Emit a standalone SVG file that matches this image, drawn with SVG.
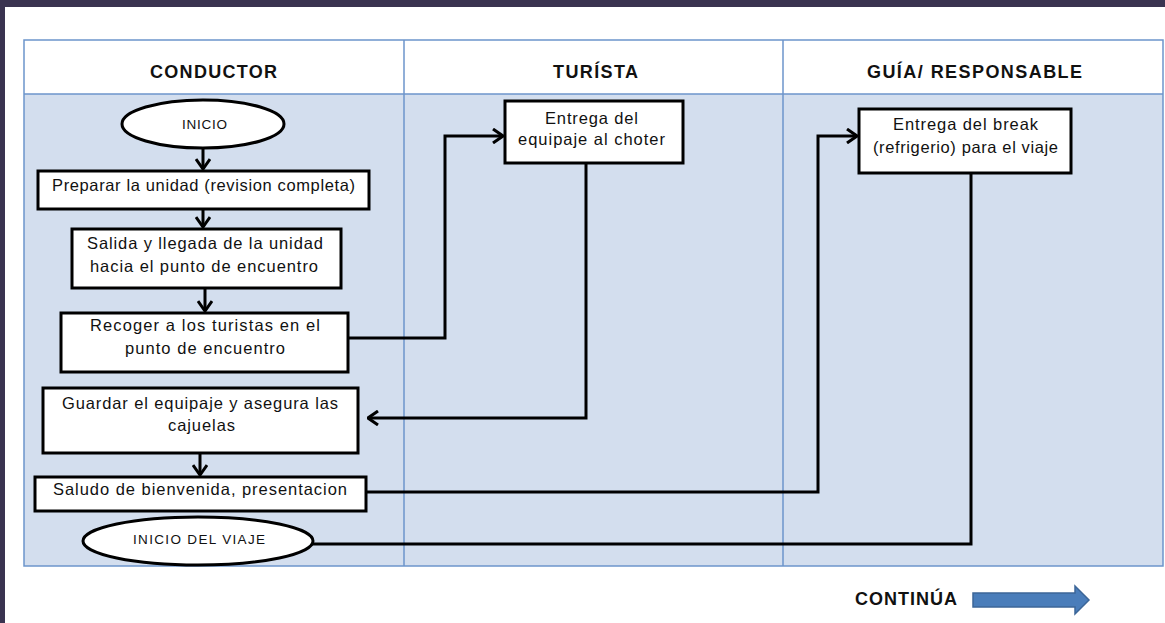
<svg xmlns="http://www.w3.org/2000/svg" width="1165" height="623" viewBox="0 0 1165 623">
<defs>
<style>
.lane{fill:#D3DEEE;stroke:none}
.hdr{fill:#FFFFFF;stroke:none}
.grid{fill:none;stroke:#6C95CB;stroke-width:1.5}
.box{fill:#FFFFFF;stroke:#000;stroke-width:3}
.t{font-family:"Liberation Sans",Arial,sans-serif;font-size:16.5px;fill:#111;text-anchor:middle}
.ts{font-family:"Liberation Sans",Arial,sans-serif;font-size:13.5px;fill:#111;text-anchor:middle}
.h{font-family:"Liberation Sans",Arial,sans-serif;font-size:18px;font-weight:bold;fill:#111;text-anchor:middle}
.con{fill:none;stroke:#000;stroke-width:3;stroke-linejoin:miter}
</style>
<marker id="arr" viewBox="0 0 12 16" refX="11" refY="8" markerWidth="12" markerHeight="16" markerUnits="userSpaceOnUse" orient="auto">
<path d="M1,1 L11,8 L1,15" fill="none" stroke="#000" stroke-width="3"/>
</marker>
</defs>
<rect x="0" y="0" width="1165" height="623" fill="#FFFFFF"/>
<rect x="0" y="0" width="1165" height="7" fill="#3A3350"/>
<rect x="0" y="0" width="5" height="623" fill="#3A3350"/>

<g id="table">
<rect class="hdr" x="24" y="40" width="1139" height="54"/>
<rect class="lane" x="24" y="94" width="1139" height="472"/>
<rect class="grid" x="24" y="40" width="1139" height="526"/>
<line class="grid" x1="24" y1="94" x2="1163" y2="94"/>
<line class="grid" x1="404" y1="40" x2="404" y2="566"/>
<line class="grid" x1="783" y1="40" x2="783" y2="566"/>
<text class="h" x="213.5" y="77.5" textLength="127">CONDUCTOR</text>
<text class="h" x="595.5" y="77.5" textLength="85">TURÍSTA</text>
<text class="h" x="974.5" y="77.5" textLength="215">GUÍA/ RESPONSABLE</text>
</g>

<g id="connectors">
<line class="con" x1="203" y1="148" x2="203" y2="169" marker-end="url(#arr)"/>
<line class="con" x1="203" y1="209" x2="203" y2="227" marker-end="url(#arr)"/>
<line class="con" x1="205" y1="288" x2="205" y2="311" marker-end="url(#arr)"/>
<line class="con" x1="200" y1="453" x2="200" y2="475" marker-end="url(#arr)"/>
<polyline class="con" points="348,338 445,338 445,136 503,136" marker-end="url(#arr)"/>
<polyline class="con" points="586,163 586,418 368,418" marker-end="url(#arr)"/>
<polyline class="con" points="366,492 818,492 818,136 857,136" marker-end="url(#arr)"/>
<polyline class="con" points="971,173 971,544 312,544"/>
</g>

<g id="n-inicio">
<ellipse class="box" cx="203" cy="124" rx="81" ry="24"/>
<text class="ts" x="204.5" y="129" textLength="45">INICIO</text>
</g>
<g id="n-preparar">
<rect class="box" x="38" y="171" width="331" height="38"/>
<text class="t" x="203.5" y="191" textLength="303">Preparar la unidad (revision completa)</text>
</g>
<g id="n-salida">
<rect class="box" x="72" y="229" width="269" height="59"/>
<text class="t" x="205" y="249" textLength="236">Salida y llegada de la unidad</text>
<text class="t" x="204" y="272" textLength="228">hacia el punto de encuentro</text>
</g>
<g id="n-recoger">
<rect class="box" x="61" y="313" width="287" height="59"/>
<text class="t" x="205" y="331" textLength="230">Recoger a los turistas en el</text>
<text class="t" x="205" y="354" textLength="160">punto de encuentro</text>
</g>
<g id="n-guardar">
<rect class="box" x="43" y="388" width="315" height="65"/>
<text class="t" x="200" y="409" textLength="276">Guardar el equipaje y asegura las</text>
<text class="t" x="201.5" y="431" textLength="67">cajuelas</text>
</g>
<g id="n-saludo">
<rect class="box" x="35" y="477" width="331" height="34"/>
<text class="t" x="200" y="495" textLength="294">Saludo de bienvenida, presentacion</text>
</g>
<g id="n-viaje">
<ellipse class="box" cx="198" cy="541" rx="115" ry="24"/>
<text class="ts" x="199" y="543.5" textLength="132">INICIO DEL VIAJE</text>
</g>
<g id="n-entrega-equipaje">
<rect class="box" x="505" y="101" width="178" height="62"/>
<text class="t" x="591.5" y="124" textLength="93">Entrega del</text>
<text class="t" x="591.5" y="145" textLength="147">equipaje al choter</text>
</g>
<g id="n-entrega-break">
<rect class="box" x="859" y="109" width="212" height="64"/>
<text class="t" x="965.5" y="130" textLength="145">Entrega del break</text>
<text class="t" x="965.5" y="153" textLength="185">(refrigerio) para el viaje</text>
</g>

<g id="continua">
<text class="h" x="906" y="604.5" textLength="102">CONTINÚA</text>
<path d="M973,593 L1075,593 L1075,586 L1089,600 L1075,614 L1075,607 L973,607 Z" fill="#4A7DBA" stroke="#3C6698" stroke-width="1.5"/>
</g>
</svg>
